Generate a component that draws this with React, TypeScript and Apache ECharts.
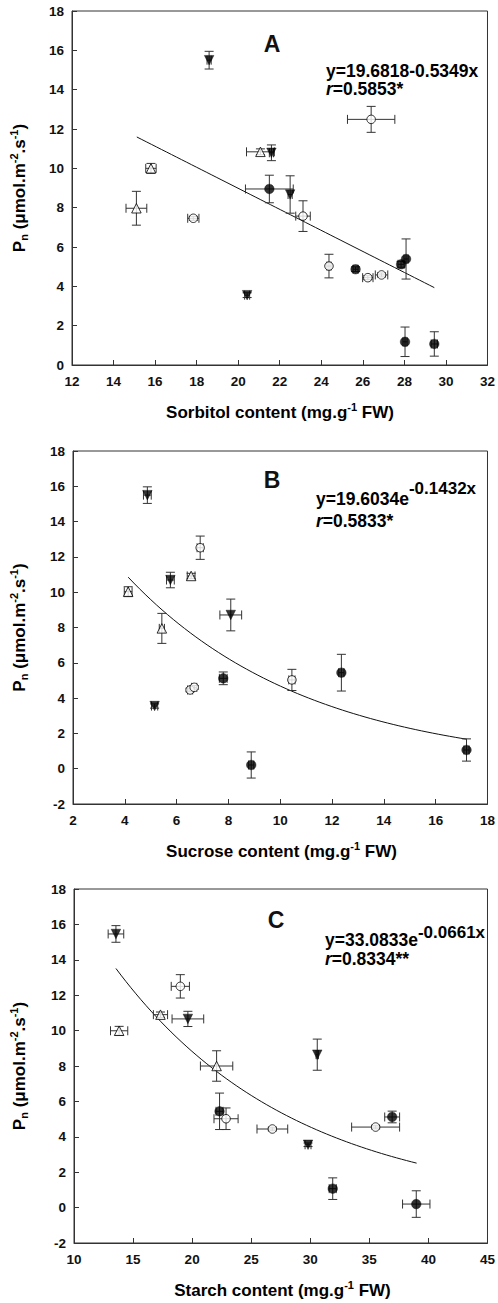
import React, { useEffect, useRef } from "react";
import * as echarts from "echarts";

const FONT = "'Liberation Sans', Arial, Helvetica, sans-serif";
const INK = "#111";
const ERR = "#333";

// Each point: [x, y, xError, yError]
// Panel A – sorbitol content
const sorbitolFilledCircle = [
  [21.5, 8.95, 1.15, 0.7],
  [25.65, 4.87, 0.12, 0.12],
  [27.84, 5.12, 0.15, 0.15],
  [28.08, 5.39, 0.1, 1.02],
  [28.03, 1.18, 0.1, 0.75],
  [29.44, 1.07, 0.15, 0.62],
];
const sorbitolOpenCircle = [
  [17.84, 7.46, 0.27, 0.1],
  [26.4, 12.49, 1.14, 0.66],
  [23.12, 7.57, 0.35, 0.78],
  [24.37, 5.03, 0.1, 0.6],
  [26.24, 4.44, 0.25, 0.1],
  [26.9, 4.58, 0.3, 0.1],
];
const sorbitolOpenTriangle = [
  [15.8, 10.0, 0.25, 0.25],
  [15.1, 7.97, 0.5, 0.86],
  [21.07, 10.84, 0.67, 0.15],
];
const sorbitolFilledDown = [
  [18.6, 15.5, 0.1, 0.45],
  [20.43, 3.55, 0.12, 0.12],
  [21.6, 10.79, 0.1, 0.4],
  [22.5, 8.67, 0.1, 0.95],
];

// Panel B – sucrose content
const sucroseFilledCircle = [
  [7.8, 5.12, 0.15, 0.36],
  [8.88, 0.21, 0.1, 0.74],
  [12.36, 5.44, 0.1, 1.04],
  [17.19, 1.06, 0.1, 0.63],
];
const sucroseOpenCircle = [
  [6.91, 12.52, 0.12, 0.66],
  [6.52, 4.46, 0.1, 0.1],
  [6.68, 4.61, 0.1, 0.1],
  [10.45, 5.03, 0.12, 0.6],
];
const sucroseOpenTriangle = [
  [6.56, 10.92, 0.15, 0.15],
  [4.13, 10.03, 0.15, 0.28],
  [5.43, 7.95, 0.1, 0.85],
];
const sucroseFilledDown = [
  [4.87, 15.5, 0.15, 0.47],
  [5.76, 10.69, 0.15, 0.44],
  [8.09, 8.71, 0.42, 0.9],
  [5.15, 3.55, 0.12, 0.12],
];

// Panel C – starch content
const starchFilledCircle = [
  [22.32, 5.44, 0.3, 1.03],
  [36.93, 5.12, 0.63, 0.33],
  [31.9, 1.07, 0.3, 0.61],
  [38.97, 0.2, 1.16, 0.75],
];
const starchOpenCircle = [
  [19.0, 12.5, 0.77, 0.66],
  [22.87, 5.02, 1.02, 0.61],
  [26.79, 4.44, 1.3, 0.1],
  [35.53, 4.55, 2.03, 0.1],
];
const starchOpenTriangle = [
  [17.32, 10.9, 0.6, 0.15],
  [13.82, 9.99, 0.73, 0.25],
  [22.07, 8.0, 1.37, 0.86],
];
const starchFilledDown = [
  [13.55, 15.46, 0.66, 0.47],
  [19.64, 10.66, 1.34, 0.43],
  [30.59, 8.64, 0.1, 0.88],
  [29.81, 3.55, 0.25, 0.1],
];

// Fitted equations printed on the chart
const fitA = { kind: "linear", a: 19.6818, b: -0.5349, from: 15.12, to: 29.44 };
const fitB = { kind: "exp", a: 19.6034, b: -0.1432, from: 4.13, to: 17.19 };
const fitC = { kind: "exp", a: 33.0833, b: -0.0661, from: 13.55, to: 39.0 };

// Axis ranges
const axesA = { xMin: 12, xMax: 32, xInt: 2, yMin: 0, yMax: 18, yInt: 2 };
const axesB = { xMin: 2, xMax: 18, xInt: 2, yMin: -2, yMax: 18, yInt: 2 };
const axesC = { xMin: 10, xMax: 45, xInt: 5, yMin: -2, yMax: 18, yInt: 2 };

const panelLetters = ["A", "B", "C"];
const xTitles = ["Sorbitol content", "Sucrose content", "Starch content"];
const eqMain = ["y=19.6818-0.5349x", "y=19.6034e", "y=33.0833e"];
const eqExp = ["", "-0.1432x", "-0.0661x"];
const rTexts = ["0.5853*", "0.5833*", "0.8334**"];

function fitCurve(f: any) {
  const pts: number[][] = [];
  const n = 60;
  for (let i = 0; i <= n; i++) {
    const x = f.from + ((f.to - f.from) * i) / n;
    const y = f.kind === "linear" ? f.a + f.b * x : f.a * Math.exp(f.b * x);
    pts.push([x, y]);
  }
  return pts;
}

const errorBarRender = (params: any, api: any) => {
  const x = api.value(0);
  const y = api.value(1);
  const ex = api.value(2);
  const ey = api.value(3);
  const c = api.coord([x, y]);
  const cap = 4.5;
  const style = { stroke: ERR, lineWidth: 1, fill: "none" };
  const children: any[] = [];
  if (ey > 0) {
    const t = api.coord([x, y + ey]);
    const b = api.coord([x, y - ey]);
    children.push({ type: "line", shape: { x1: c[0], y1: t[1], x2: c[0], y2: b[1] }, style });
    children.push({ type: "line", shape: { x1: c[0] - cap, y1: t[1], x2: c[0] + cap, y2: t[1] }, style });
    children.push({ type: "line", shape: { x1: c[0] - cap, y1: b[1], x2: c[0] + cap, y2: b[1] }, style });
  }
  if (ex > 0) {
    const l = api.coord([x - ex, y]);
    const r = api.coord([x + ex, y]);
    children.push({ type: "line", shape: { x1: l[0], y1: c[1], x2: r[0], y2: c[1] }, style });
    children.push({ type: "line", shape: { x1: l[0], y1: c[1] - cap, x2: l[0], y2: c[1] + cap }, style });
    children.push({ type: "line", shape: { x1: r[0], y1: c[1] - cap, x2: r[0], y2: c[1] + cap }, style });
  }
  return { type: "group", children };
};

const grids = [
  { left: 72, top: 11, width: 416, height: 354 },
  { left: 73, top: 451, width: 417, height: 353 },
  { left: 74, top: 889, width: 417, height: 354 },
];

function buildOption() {
  const panels = [
    { axes: axesA, fit: fitA, fc: sorbitolFilledCircle, oc: sorbitolOpenCircle, ot: sorbitolOpenTriangle, fd: sorbitolFilledDown },
    { axes: axesB, fit: fitB, fc: sucroseFilledCircle, oc: sucroseOpenCircle, ot: sucroseOpenTriangle, fd: sucroseFilledDown },
    { axes: axesC, fit: fitC, fc: starchFilledCircle, oc: starchOpenCircle, ot: starchOpenTriangle, fd: starchFilledDown },
  ];
  const axisLine = { show: true, onZero: false, lineStyle: { color: "#333", width: 1 } };
  const axisTick = { show: true, inside: true, length: 5, lineStyle: { color: "#333", width: 1 } };
  const axisLabel = {
    fontSize: 13.5,
    fontWeight: "bold",
    fontFamily: FONT,
    color: INK,
    showMinLabel: true,
    showMaxLabel: true,
  };
  const xAxis: any[] = [];
  const yAxis: any[] = [];
  const series: any[] = [];
  panels.forEach((p, i) => {
    xAxis.push({
      gridIndex: i,
      type: "value",
      min: p.axes.xMin,
      max: p.axes.xMax,
      interval: p.axes.xInt,
      axisLine,
      axisTick,
      axisLabel: { ...axisLabel, margin: 9 },
      splitLine: { show: false },
    });
    yAxis.push({
      gridIndex: i,
      type: "value",
      min: p.axes.yMin,
      max: p.axes.yMax,
      interval: p.axes.yInt,
      axisLine,
      axisTick,
      axisLabel: { ...axisLabel, margin: 8 },
      splitLine: { show: false },
    });
    const all = [...p.fc, ...p.oc, ...p.ot, ...p.fd];
    series.push({
      type: "line",
      xAxisIndex: i,
      yAxisIndex: i,
      data: fitCurve(p.fit),
      showSymbol: false,
      smooth: false,
      lineStyle: { color: INK, width: 1 },
      z: 1,
      silent: true,
    });
    series.push({
      type: "custom",
      xAxisIndex: i,
      yAxisIndex: i,
      data: all,
      dimensions: ["x", "y", "ex", "ey"],
      encode: { x: 0, y: 1 },
      renderItem: errorBarRender,
      z: 2,
      silent: true,
    });
    const base = { type: "scatter", xAxisIndex: i, yAxisIndex: i, z: 3, silent: true };
    series.push({
      ...base,
      data: p.fc.map((d) => [d[0], d[1]]),
      symbol: "circle",
      symbolSize: 9.5,
      itemStyle: { color: "#000", borderColor: "#000", borderWidth: 0.5 },
    });
    series.push({
      ...base,
      data: p.oc.map((d) => [d[0], d[1]]),
      symbol: "circle",
      symbolSize: 8.5,
      itemStyle: { color: "#fff", borderColor: "#000", borderWidth: 1 },
    });
    series.push({
      ...base,
      data: p.ot.map((d) => [d[0], d[1]]),
      symbol: "triangle",
      symbolSize: 9.5,
      itemStyle: { color: "#fff", borderColor: "#000", borderWidth: 1 },
    });
    series.push({
      ...base,
      data: p.fd.map((d) => [d[0], d[1]]),
      symbol: "triangle",
      symbolRotate: 180,
      symbolSize: 9.5,
      itemStyle: { color: "#000", borderColor: "#000", borderWidth: 0.5 },
    });
  });

  const titleRich = {
    t: { fontSize: 17, fontWeight: "bold", fontFamily: FONT, color: INK, lineHeight: 19, padding: [6, 0, 6, 0] },
    sup: { fontSize: 11, fontWeight: "bold", fontFamily: FONT, color: INK, lineHeight: 12, padding: [4.5, 0, 14.5, 0] },
    sub: { fontSize: 11, fontWeight: "bold", fontFamily: FONT, color: INK, lineHeight: 12, padding: [14.5, 0, 4.5, 0] },
  };

  const graphic: any[] = [];
  const letterPos = [
    [272, 44],
    [272, 480],
    [276, 920],
  ];
  const eqPos = [
    { x: 326, y: 71, ry: 89, lift: 0 },
    { x: 316, y: 499, ry: 521, lift: 11 },
    { x: 325, y: 940, ry: 959, lift: 8 },
  ];
  grids.forEach((g, i) => {
    const cx = g.left + g.width / 2;
    const cy = g.top + g.height / 2;
    const bottom = g.top + g.height;
    graphic.push({
      type: "text",
      x: cx,
      y: bottom + 47,
      style: {
        text: `{t|${xTitles[i]} (mg.g}{sup|-1}{t| FW)}`,
        rich: titleRich,
        align: "center",
        verticalAlign: "middle",
      },
    });
    graphic.push({
      type: "text",
      x: 19,
      y: cy,
      rotation: Math.PI / 2,
      style: {
        text: "{t|P}{sub|n}{t| (μmol.m}{sup|-2}{t|.s}{sup|-1}{t|)}",
        rich: titleRich,
        align: "center",
        verticalAlign: "middle",
      },
    });
    graphic.push({
      type: "text",
      x: letterPos[i][0],
      y: letterPos[i][1],
      style: {
        text: panelLetters[i],
        fontSize: 23,
        fontWeight: "bold",
        fontFamily: FONT,
        fill: INK,
        align: "center",
        verticalAlign: "middle",
      },
    });
    const e = eqPos[i];
    const lift = e.lift;
    const eqRich = {
      m: { fontSize: 17.5, fontWeight: "bold", fontFamily: FONT, color: INK, lineHeight: 17, padding: [lift, 0, 0, 0] },
      e: { fontSize: 17, fontWeight: "bold", fontFamily: FONT, color: INK, lineHeight: 17, padding: [0, 0, lift, 0] },
    };
    const eqText = eqExp[i] ? `{m|${eqMain[i]}}{e|${eqExp[i]}}` : `{m|${eqMain[i]}}`;
    graphic.push({
      type: "text",
      x: e.x,
      y: e.y - lift / 2,
      style: { text: eqText, rich: eqRich, align: "left", verticalAlign: "middle" },
    });
    graphic.push({
      type: "text",
      x: e.x,
      y: e.ry,
      style: {
        text: `{i|r}{m|=${rTexts[i]}}`,
        rich: {
          i: { fontSize: 17.5, fontWeight: "bold", fontStyle: "italic", fontFamily: FONT, color: INK, lineHeight: 17 },
          m: { fontSize: 17.5, fontWeight: "bold", fontFamily: FONT, color: INK, lineHeight: 17 },
        },
        align: "left",
        verticalAlign: "middle",
      },
    });
  });

  return {
    animation: false,
    backgroundColor: "#fff",
    grid: grids.map((g) => ({ ...g, show: true, borderColor: "#333", borderWidth: 1, backgroundColor: "transparent" })),
    xAxis,
    yAxis,
    series,
    graphic,
  };
}

export default function App() {
  const ref = useRef<HTMLDivElement>(null);
  useEffect(() => {
    if (!ref.current) return;
    const chart = echarts.init(ref.current, null, { renderer: "svg" });
    chart.setOption(buildOption() as any);
    return () => {
      chart.dispose();
    };
  }, []);
  return (
    <div
      ref={ref}
      style={{ position: "absolute", left: 0, top: 0, width: 498, height: 1303, background: "#fff" }}
    />
  );
}
